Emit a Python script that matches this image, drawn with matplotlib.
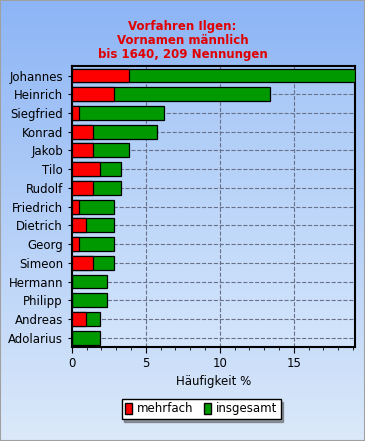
import numpy as np
import matplotlib.pyplot as plt
from matplotlib.ticker import MultipleLocator

names = ['Johannes', 'Heinrich', 'Siegfried', 'Konrad', 'Jakob', 'Tilo', 'Rudolf',
         'Friedrich', 'Dietrich', 'Georg', 'Simeon', 'Hermann', 'Philipp', 'Andreas', 'Adolarius']
# percent of 209 mentions
mehrfach = [3.83, 2.87, 0.48, 1.44, 1.44, 1.91, 1.44, 0.48, 0.96, 0.48, 1.44, 0.0, 0.0, 0.96, 0.0]
insgesamt = [19.14, 13.4, 6.22, 5.74, 3.83, 3.35, 3.35, 2.87, 2.87, 2.87, 2.87, 2.39, 2.39, 1.91, 1.91]

red = '#ff0000'
green = '#009900'

fig = plt.figure(figsize=(3.65, 4.41), dpi=100)

# background gradient of the whole figure
bg = fig.add_axes([0, 0, 1, 1], zorder=-10)
grad = np.linspace(0, 1, 256).reshape(-1, 1)
cmap_bg = plt.matplotlib.colors.LinearSegmentedColormap.from_list('bg', ['#8db5f5', '#dbe9fa'])
bg.imshow(grad, aspect='auto', cmap=cmap_bg, extent=[0, 1, 0, 1])
bg.set_axis_off()
bg.add_patch(plt.Rectangle((0, 0), 1, 1, fill=False, edgecolor='#a0a0a0', lw=1.5,
                           transform=bg.transAxes, clip_on=False))

ax = fig.add_axes([0.197, 0.213, 0.776, 0.637])
y = np.arange(len(names))
ax.set_xlim(0, 19.15)
ax.set_ylim(len(names) - 0.5, -0.5)

cmap_ax = plt.matplotlib.colors.LinearSegmentedColormap.from_list('ax', ['#a6c7f7', '#d3e5fb'])
ax.imshow(grad, aspect='auto', cmap=cmap_ax, extent=[0, 19.15, len(names) - 0.5, -0.5], zorder=0)

ax.barh(y, insgesamt, height=0.74, color=green, edgecolor='black', lw=0.9, zorder=3)
ax.barh(y, mehrfach, height=0.74, color=red, edgecolor='black', lw=0.9, zorder=4)

ax.set_yticks(y)
ax.set_yticklabels(names, fontsize=8.5)
ax.set_xticks([0, 5, 10, 15])
ax.xaxis.set_minor_locator(MultipleLocator(1))
ax.tick_params(axis='x', labelsize=8.5, direction='out', length=4)
ax.tick_params(axis='x', which='minor', direction='out', length=2)
ax.tick_params(axis='y', length=3)
ax.grid(True, ls='--', color='#6a7088', lw=0.8, zorder=1)
ax.set_axisbelow(True)
for sp in ax.spines.values():
    sp.set_linewidth(1.5)
ax.set_xlabel('Häufigkeit %', fontsize=8.5, labelpad=3)

fig.text(0.5, 0.862, 'Vorfahren Ilgen:\nVornamen männlich\nbis 1640, 209 Nennungen',
         ha='center', va='bottom', color='#e00000', fontsize=8.5, fontweight='bold',
         linespacing=1.08)

leg = fig.legend([plt.Rectangle((0, 0), 1, 1, fc=red, ec='black'),
                  plt.Rectangle((0, 0), 1, 1, fc=green, ec='black')],
                 ['mehrfach', 'insgesamt'], ncol=2, loc='center',
                 bbox_to_anchor=(0.551, 0.073), fontsize=8.5, frameon=True,
                 fancybox=False, shadow=True, handlelength=0.6, handleheight=1.1,
                 handletextpad=0.4, columnspacing=0.9, borderpad=0.3, borderaxespad=0)
leg.get_frame().set_edgecolor('black')
leg.get_frame().set_facecolor('white')
leg.get_frame().set_alpha(1)

fig.savefig('out.png', dpi=100)
